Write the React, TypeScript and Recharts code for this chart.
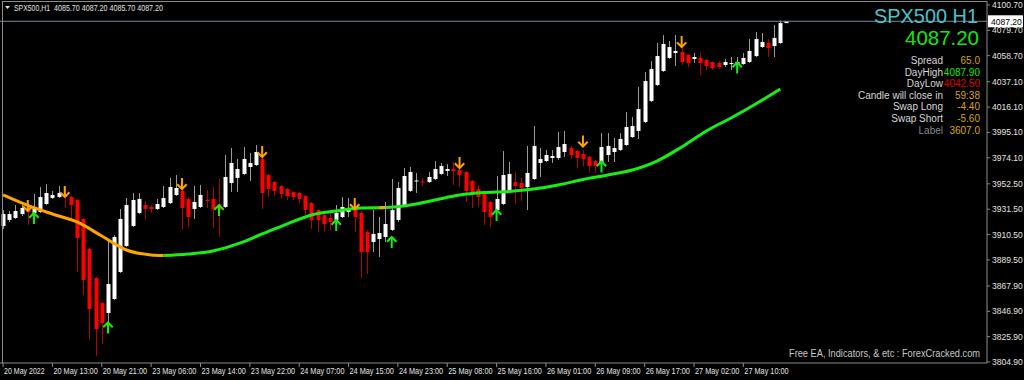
import React from "react";
import { Bar, ComposedChart, Line, ReferenceLine, XAxis, YAxis } from "recharts";

// SPX500 H1 candles (oldest first)
const opens = [
  3917.6, 3922.6, 3924.2, 3927.5, 3931.7, 3928.4, 3929.2, 3935.8, 3940.8, 3941.6,
  3944.1, 3941.6, 3939.1, 3923.4, 3898.5, 3874.5, 3853.8, 3845.5, 3857.1, 3879.5,
  3901.0, 3917.6, 3928.4, 3935.0, 3933.3, 3931.7, 3933.3, 3936.6, 3943.3, 3946.6,
  3940.0, 3931.7, 3933.3, 3939.1, 3940.0, 3935.8, 3933.3, 3953.2, 3957.4, 3960.7,
  3966.5, 3968.1, 3973.1, 3959.8, 3954.0, 3950.7, 3948.2, 3945.8, 3944.9, 3942.4,
  3936.6, 3930.8, 3926.7, 3924.2, 3922.6, 3925.0, 3929.2, 3931.7, 3928.4, 3912.6,
  3904.3, 3906.8, 3908.5, 3914.3, 3922.6, 3934.2, 3946.6, 3954.5, 3954.5, 3954.0,
  3956.5, 3960.7, 3963.2, 3964.8, 3964.0, 3962.3, 3954.9, 3948.2, 3944.1, 3937.5,
  3930.8, 3935.8, 3947.4, 3954.0, 3953.2, 3949.9, 3956.5, 3969.8, 3971.4, 3973.9,
  3973.9, 3978.9, 3982.2, 3979.7, 3977.2, 3974.8, 3971.4, 3969.8, 3976.4, 3978.9,
  3980.6, 3984.7, 3991.3, 3996.3, 4003.8, 4021.2, 4034.4, 4046.0, 4056.8, 4060.9,
  4061.8, 4059.3, 4056.0, 4056.8, 4055.1, 4053.5, 4052.6, 4051.0, 4051.8, 4051.0,
  4051.8, 4053.5, 4058.4, 4065.9, 4069.2, 4066.7, 4069.2, 4085.7,
];
const highs = [
  3930.8, 3930.0, 3935.0, 3935.0, 3935.0, 3944.1, 3949.9, 3952.4, 3946.6, 3950.7,
  3949.9, 3942.4, 3940.0, 3924.2, 3899.4, 3875.3, 3854.6, 3906.0, 3910.1, 3931.7,
  3940.8, 3944.9, 3944.9, 3938.3, 3935.0, 3940.0, 3950.7, 3957.4, 3959.8, 3948.2,
  3941.6, 3950.7, 3951.6, 3947.4, 3949.9, 3956.5, 3976.4, 3982.2, 3973.1, 3983.0,
  3978.1, 3984.7, 3974.8, 3960.7, 3954.9, 3951.6, 3949.1, 3946.6, 3945.8, 3943.3,
  3937.5, 3931.7, 3927.5, 3928.4, 3935.0, 3941.6, 3940.8, 3936.6, 3930.0, 3914.3,
  3930.8, 3925.0, 3937.5, 3956.5, 3954.0, 3965.6, 3966.5, 3961.5, 3957.4, 3962.3,
  3971.4, 3969.8, 3969.0, 3970.6, 3965.6, 3963.2, 3955.7, 3951.6, 3944.9, 3938.3,
  3959.0, 3979.7, 3970.6, 3962.3, 3957.4, 3983.9, 4000.4, 3982.2, 3980.6, 3980.6,
  3995.5, 3996.3, 3983.9, 3980.6, 3980.6, 3975.6, 3972.3, 3994.6, 3994.6, 3990.5,
  3994.6, 4012.0, 4007.9, 4032.8, 4045.2, 4054.3, 4069.2, 4075.8, 4070.9, 4075.8,
  4065.1, 4060.1, 4060.9, 4060.9, 4056.0, 4053.9, 4054.3, 4056.0, 4057.6, 4057.6,
  4060.9, 4072.5, 4078.3, 4077.5, 4072.5, 4084.1, 4087.9, 4087.2,
];
const lows = [
  3915.1, 3920.9, 3923.4, 3925.9, 3918.4, 3927.5, 3928.4, 3935.0, 3940.0, 3940.8,
  3932.5, 3922.6, 3879.5, 3860.4, 3823.9, 3809.9, 3819.8, 3828.9, 3856.3, 3878.6,
  3900.2, 3916.8, 3927.5, 3923.4, 3928.4, 3930.8, 3932.5, 3935.8, 3942.4, 3914.3,
  3916.8, 3923.4, 3932.5, 3932.5, 3915.9, 3908.5, 3932.5, 3945.8, 3945.8, 3959.8,
  3954.9, 3967.3, 3931.7, 3941.6, 3942.4, 3940.0, 3939.1, 3939.1, 3935.8, 3926.7,
  3915.1, 3912.6, 3913.4, 3914.3, 3920.9, 3924.2, 3925.0, 3912.6, 3874.5, 3877.8,
  3896.0, 3891.9, 3904.3, 3913.4, 3920.9, 3933.3, 3945.8, 3944.9, 3950.7, 3953.2,
  3955.7, 3959.8, 3959.0, 3951.6, 3949.9, 3937.5, 3932.5, 3933.3, 3918.4, 3916.8,
  3929.2, 3935.0, 3946.6, 3935.8, 3938.3, 3930.8, 3955.7, 3958.2, 3970.6, 3969.8,
  3972.3, 3974.8, 3973.1, 3965.6, 3967.3, 3962.3, 3961.5, 3968.1, 3970.6, 3970.6,
  3979.7, 3983.9, 3990.5, 3989.7, 4002.9, 4020.3, 4033.6, 4045.2, 4056.0, 4050.2,
  4051.0, 4049.3, 4052.6, 4042.5, 4046.8, 4046.8, 4047.7, 4049.3, 4046.8, 4046.8,
  4051.0, 4052.6, 4057.6, 4065.1, 4057.6, 4057.6, 4068.4, 4085.7,
];
const closes = [
  3927.5, 3927.5, 3930.0, 3932.5, 3929.2, 3933.3, 3941.6, 3944.9, 3943.3, 3944.9,
  3941.6, 3935.0, 3907.6, 3872.8, 3848.8, 3832.2, 3837.2, 3869.5, 3908.5, 3923.4,
  3935.0, 3939.1, 3940.0, 3931.7, 3931.7, 3935.8, 3940.8, 3949.9, 3949.1, 3932.5,
  3925.0, 3937.5, 3943.3, 3938.3, 3931.7, 3930.8, 3958.2, 3969.8, 3964.8, 3973.1,
  3969.8, 3978.9, 3944.9, 3948.2, 3946.6, 3944.1, 3942.4, 3941.6, 3940.0, 3930.8,
  3922.6, 3922.6, 3919.2, 3920.9, 3928.4, 3933.3, 3932.5, 3925.0, 3896.0, 3896.0,
  3911.0, 3911.8, 3919.2, 3930.8, 3949.1, 3959.0, 3962.3, 3955.3, 3953.6, 3958.2,
  3964.8, 3967.3, 3964.8, 3963.2, 3959.8, 3946.6, 3944.9, 3941.6, 3929.2, 3925.0,
  3940.0, 3959.8, 3960.7, 3950.7, 3949.1, 3961.5, 3983.9, 3973.1, 3976.4, 3975.6,
  3983.0, 3985.5, 3976.4, 3973.9, 3973.1, 3967.3, 3967.3, 3983.0, 3983.9, 3982.2,
  3989.7, 3999.6, 4000.4, 4014.5, 4037.7, 4047.7, 4058.4, 4068.4, 4065.9, 4062.6,
  4053.5, 4052.6, 4057.6, 4052.6, 4050.2, 4048.5, 4049.3, 4053.5, 4052.6, 4053.5,
  4056.8, 4062.6, 4072.5, 4070.0, 4065.1, 4073.4, 4085.7, 4087.2,
];

// moving average, read at a few bars: [bar index, value]
const maFalling = [
  [0, 3943.3], [4, 3934.6], [8, 3927.5], [12, 3920.9], [16, 3909.3],
  [20, 3897.7], [24, 3893.6], [26, 3893.1],
];
const maFallingShort = [[61, 3932.8], [62, 3932.9]];
const maRising = [
  [26, 3893.1], [30, 3894.4], [34, 3896.9], [38, 3902.7], [42, 3911.0],
  [46, 3919.2], [50, 3926.7], [54, 3930.0], [58, 3932.5], [62, 3932.9],
  [66, 3935.0], [70, 3939.1], [74, 3943.3], [78, 3945.3], [82, 3946.2],
  [86, 3948.2], [90, 3951.6], [94, 3956.1], [98, 3959.8], [102, 3964.0],
  [106, 3971.4], [110, 3983.0], [114, 3996.3], [118, 4007.1], [122, 4018.7],
  [126, 4031.1],
];

// signal arrows
const sellBars = [4, 10, 29, 42, 57, 74, 94, 110];
const sellLevels = [3934.2, 3945.8, 3952.4, 3978.9, 3935.8, 3969.8, 3987.6, 4070.0];
const buyBars = [5, 17, 35, 54, 63, 80, 97, 119];
const buyLevels = [3924.2, 3833.5, 3930.8, 3918.4, 3904.3, 3926.7, 3966.9, 4048.9];

const timeTickBars = [0, 8, 16, 24, 32, 40, 48, 56, 64, 72, 80, 88, 96, 104, 112, 120];
const timeLabels = [
  "20 May 2022", "20 May 13:00", "20 May 21:00", "23 May 06:00", "23 May 14:00",
  "23 May 22:00", "24 May 07:00", "24 May 15:00", "24 May 23:00", "25 May 08:00",
  "25 May 16:00", "26 May 01:00", "26 May 09:00", "26 May 17:00", "27 May 02:00",
  "27 May 10:00",
];
const priceTicks = [
  3804.9, 3825.9, 3846.9, 3867.9, 3889.5, 3910.5, 3931.5, 3952.5, 3974.1, 3995.1,
  4016.1, 4037.1, 4058.7, 4079.7, 4100.7,
];
const lastPrice = 4087.2;
const lastBar = [4085.7, 4087.2, 4085.7, 4087.2];

const infoLabels = ["Spread", "DayHigh", "DayLow", "Candle will close in", "Swap Long", "Swap Short", "Label"];
const infoValues = ["65.0", "4087.90", "4042.50", "59:38", "-4.40", "-5.60", "3607.0"];
const infoValueColors = ["#d6a21c", "#12e012", "#e00000", "#d6a21c", "#d6a21c", "#d6a21c", "#d8ac00"];

const SLOTS = 160;
const AXIS = "#8c8c8c";
const FONT = "'Liberation Sans', Arial, sans-serif";

const data: any[] = Array.from({ length: SLOTS }, (_, i) => {
  const row: any = { i };
  if (i < opens.length) {
    row.o = opens[i];
    row.h = highs[i];
    row.l = lows[i];
    row.c = closes[i];
    row.range = [lows[i], highs[i]];
  }
  return row;
});
maFalling.forEach(([i, v]) => (data[i].maFall = v));
maFallingShort.forEach(([i, v]) => (data[i].maFall2 = v));
maRising.forEach(([i, v]) => (data[i].maRise = v));
sellBars.forEach((b, k) => (data[b].sell = sellLevels[k]));
buyBars.forEach((b, k) => (data[b].buy = buyLevels[k]));

function Candle(props: any) {
  const { x, y, width, height, payload } = props;
  if (!payload || payload.o == null) return <g />;
  const top = Math.min(y, y + height);
  const bottom = Math.max(y, y + height);
  const span = payload.h - payload.l;
  const k = span > 0 ? (bottom - top) / span : 0;
  const yO = top + (payload.h - payload.o) * k;
  const yC = top + (payload.h - payload.c) * k;
  const bull = payload.c >= payload.o;
  const r = Math.round(x + width / 2);
  const bTop = Math.min(yO, yC);
  const bH = Math.max(1, Math.abs(yO - yC));
  return (
    <g>
      <line x1={r + 0.5} x2={r + 0.5} y1={top} y2={bottom} stroke={bull ? "#9a9a9a" : "#b80000"} strokeWidth={1} />
      <rect x={r - 1.5} y={bTop} width={4} height={bH} fill={bull ? "#ffffff" : "#ff0000"} />
    </g>
  );
}

function Arrow({ cx, cy, value, down, color }: any) {
  if (value == null || cx == null || cy == null) return <g />;
  const d = down ? 1 : -1;
  return (
    <g stroke={color} strokeWidth={2} fill="none" strokeLinecap="square">
      <line x1={cx} x2={cx} y1={cy - 5 * d} y2={cy + 4 * d} />
      <polyline points={`${cx - 4},${cy + 1 * d} ${cx},${cy + 5 * d} ${cx + 4},${cy + 1 * d}`} />
    </g>
  );
}

function PriceTick({ x, y, payload }: any) {
  return (
    <text x={x} y={y + 3} fill="#e4e4e4" fontSize={8.5} fontFamily={FONT} textAnchor="start">
      {payload.value.toFixed(2)}
    </text>
  );
}

function TimeTick({ x, y, payload }: any) {
  const label = timeLabels[timeTickBars.indexOf(payload.value)] ?? "";
  return (
    <text
      x={x + 1}
      y={y + 5}
      fill="#e4e4e4"
      fontSize={8.5}
      fontFamily={FONT}
      textLength={label.length * 3.69}
      lengthAdjust="spacingAndGlyphs"
    >
      {label}
    </text>
  );
}

function PriceTag(props: any) {
  const vb = props.viewBox || {};
  const x = vb.x + vb.width + 1;
  const y = vb.y;
  return (
    <g>
      <rect x={x} y={y - 6} width={35} height={12} fill="#ffffff" />
      <text x={x + 3} y={y + 3.5} fontSize={8.5} fontFamily={FONT} fill="#000000">
        {lastPrice.toFixed(2)}
      </text>
    </g>
  );
}

export default function App() {
  return (
    <div style={{ position: "relative", width: 1024, height: 380, background: "#000" }}>
      <style>{"body{margin:0;background:#000}"}</style>
      <ComposedChart width={1024} height={380} data={data} margin={{ top: 1, right: 0, bottom: 0, left: 0 }}>
        <XAxis
          dataKey="i"
          type="category"
          ticks={timeTickBars}
          interval={0}
          height={17}
          tickSize={4}
          axisLine={{ stroke: AXIS }}
          tickLine={{ stroke: AXIS }}
          tick={<TimeTick />}
        />
        <YAxis
          orientation="right"
          type="number"
          domain={[3804.06, 4104.01]}
          allowDataOverflow
          ticks={priceTicks}
          interval={0}
          width={37}
          tickSize={3}
          axisLine={{ stroke: AXIS }}
          tickLine={{ stroke: AXIS }}
          tick={<PriceTick />}
        />
        <ReferenceLine y={lastPrice} stroke="#778899" label={<PriceTag />} />
        <Bar dataKey="range" shape={<Candle />} barSize={4} isAnimationActive={false} />
        <Line dataKey="maFall" type="monotone" stroke="#ffa500" strokeWidth={3} dot={false} activeDot={false} connectNulls isAnimationActive={false} />
        <Line dataKey="maRise" type="monotone" stroke="#16ee16" strokeWidth={3} dot={false} activeDot={false} connectNulls isAnimationActive={false} />
        <Line dataKey="maFall2" type="monotone" stroke="#ffa500" strokeWidth={3} dot={false} activeDot={false} connectNulls isAnimationActive={false} />
        <Line
          dataKey="sell"
          stroke="none"
          activeDot={false}
          isAnimationActive={false}
          dot={(p: any) => <Arrow key={`s${p.index}`} {...p} down color="#ffa500" />}
        />
        <Line
          dataKey="buy"
          stroke="none"
          activeDot={false}
          isAnimationActive={false}
          dot={(p: any) => <Arrow key={`b${p.index}`} {...p} color="#12f012" />}
        />
      </ComposedChart>
      <svg width={1024} height={380} style={{ position: "absolute", left: 0, top: 0, pointerEvents: "none" }}>
        <line x1={2} x2={987} y1={1.5} y2={1.5} stroke={AXIS} />
        <line x1={2.5} x2={2.5} y1={1} y2={363} stroke={AXIS} />
        <polygon points="5,6 10,6 7.5,9" fill="#e4e4e4" />
        <text x={14} y={11} fontSize={8.5} fontFamily={FONT} fill="#e4e4e4" textLength={36} lengthAdjust="spacingAndGlyphs">
          SPX500,H1
        </text>
        <text x={54} y={11} fontSize={8.5} fontFamily={FONT} fill="#e4e4e4" textLength={109} lengthAdjust="spacingAndGlyphs">
          {lastBar.map((v) => v.toFixed(2)).join(" ")}
        </text>
        <text x={874} y={23} fontSize={21} fontFamily={FONT} fill="#4cc3cc" textLength={104} lengthAdjust="spacingAndGlyphs">
          SPX500 H1
        </text>
        <text x={905} y={45} fontSize={21} fontFamily={FONT} fill="#14e614" textLength={74} lengthAdjust="spacingAndGlyphs">
          {lastPrice.toFixed(2)}
        </text>
        {infoLabels.map((t, k) => (
          <text
            key={t}
            x={943}
            y={64 + k * 11.6}
            fontSize={10}
            fontFamily={FONT}
            textAnchor="end"
            fill={t === "Label" ? "#8a8a8a" : "#d8d8d8"}
          >
            {t}
          </text>
        ))}
        {infoValues.map((t, k) => (
          <text key={k} x={980} y={64 + k * 11.6} fontSize={10} fontFamily={FONT} textAnchor="end" fill={infoValueColors[k]}>
            {t}
          </text>
        ))}
        <text x={789} y={357} fontSize={10.5} fontFamily={FONT} fill="#c8c8c8" textLength={191} lengthAdjust="spacingAndGlyphs">
          Free EA, Indicators, &amp; etc : ForexCracked.com
        </text>
      </svg>
    </div>
  );
}
